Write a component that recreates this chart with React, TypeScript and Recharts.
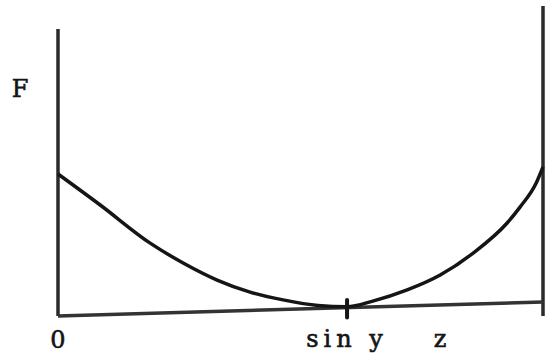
import { LineChart, Line, XAxis, YAxis, ReferenceLine } from "recharts";

// curve F(x): position along the axis and height above the base
const curveX = [0, 0.87, 1.9, 2.58, 3.28, 3.96, 4.64, 5.36, 5.96, 6.49, 7.2, 7.88, 8.56, 9.26, 9.53, 9.86, 10];
const curveF = [4.58, 3.58, 2.35, 1.71, 1.16, 0.77, 0.52, 0.34, 0.3, 0.48, 0.84, 1.32, 2.03, 3.0, 3.52, 4.29, 4.81];

// marks on the horizontal axis
const tickValues = [0, 5.96, 7.88];
const tickLabels = ["0", "sin y", "z"];

// frame: left axis top, right edge top, base rise at the right end
const leftTop = 9.26;
const rightTop = 10;
const baseRight = 0.45;

const data = curveX.map((x, i) => ({ x, f: curveF[i] }));

const INK = "#151515";
const FONT = "'DejaVu Serif', serif";

function AxisTick(props: any) {
  const { x, y, payload, index } = props;
  const label = tickLabels[tickValues.indexOf(payload.value)] ?? "";
  return (
    <text
      x={x}
      y={y + (index === 0 ? 30 : 29)}
      textAnchor="middle"
      fill={INK}
      stroke={INK}
      strokeWidth={0.6}
      fontFamily={FONT}
      fontSize={24}
      letterSpacing={label.length > 1 ? 5 : 0}
    >
      {label}
    </text>
  );
}

function NameLabel(props: any) {
  const { viewBox } = props;
  return (
    <text
      x={viewBox.x + 20}
      y={97}
      textAnchor="middle"
      fill={INK}
      stroke={INK}
      strokeWidth={0.6}
      fontFamily={FONT}
      fontSize={24}
    >
      F
    </text>
  );
}

export default function App() {
  return (
    <div style={{ position: "absolute", left: 0, top: 0, background: "#fff" }}>
      <LineChart
        width={549}
        height={353}
        data={data}
        margin={{ top: 6, right: 6, bottom: 7, left: 0 }}
      >
        <XAxis
          dataKey="x"
          type="number"
          domain={[0, 10]}
          ticks={tickValues}
          interval={0}
          axisLine={false}
          tickLine={false}
          tickSize={0}
          height={30}
          tick={<AxisTick />}
        />
        <YAxis
          type="number"
          domain={[0, 10]}
          width={58}
          ticks={[]}
          axisLine={false}
          tickLine={false}
          label={<NameLabel />}
        />

        {/* left axis */}
        <ReferenceLine
          segment={[{ x: 0, y: 0 }, { x: 0, y: leftTop }]}
          stroke="#2a2a2a"
          strokeWidth={3.5}
          ifOverflow="visible"
        />
        {/* right edge */}
        <ReferenceLine
          segment={[{ x: 10, y: 0 }, { x: 10, y: rightTop }]}
          stroke="#2a2a2a"
          strokeWidth={3.5}
          ifOverflow="visible"
        />
        {/* sloping base line */}
        <ReferenceLine
          segment={[{ x: 0, y: 0 }, { x: 10, y: baseRight }]}
          stroke="#333"
          strokeWidth={3.5}
          ifOverflow="visible"
        />
        {/* small mark at sin y */}
        <ReferenceLine
          segment={[{ x: tickValues[1], y: -0.05 }, { x: tickValues[1], y: 0.52 }]}
          stroke={INK}
          strokeWidth={4}
          strokeLinecap="round"
          ifOverflow="visible"
        />

        <Line
          dataKey="f"
          type="monotone"
          stroke={INK}
          strokeWidth={3.5}
          dot={false}
          isAnimationActive={false}
        />
      </LineChart>
    </div>
  );
}
